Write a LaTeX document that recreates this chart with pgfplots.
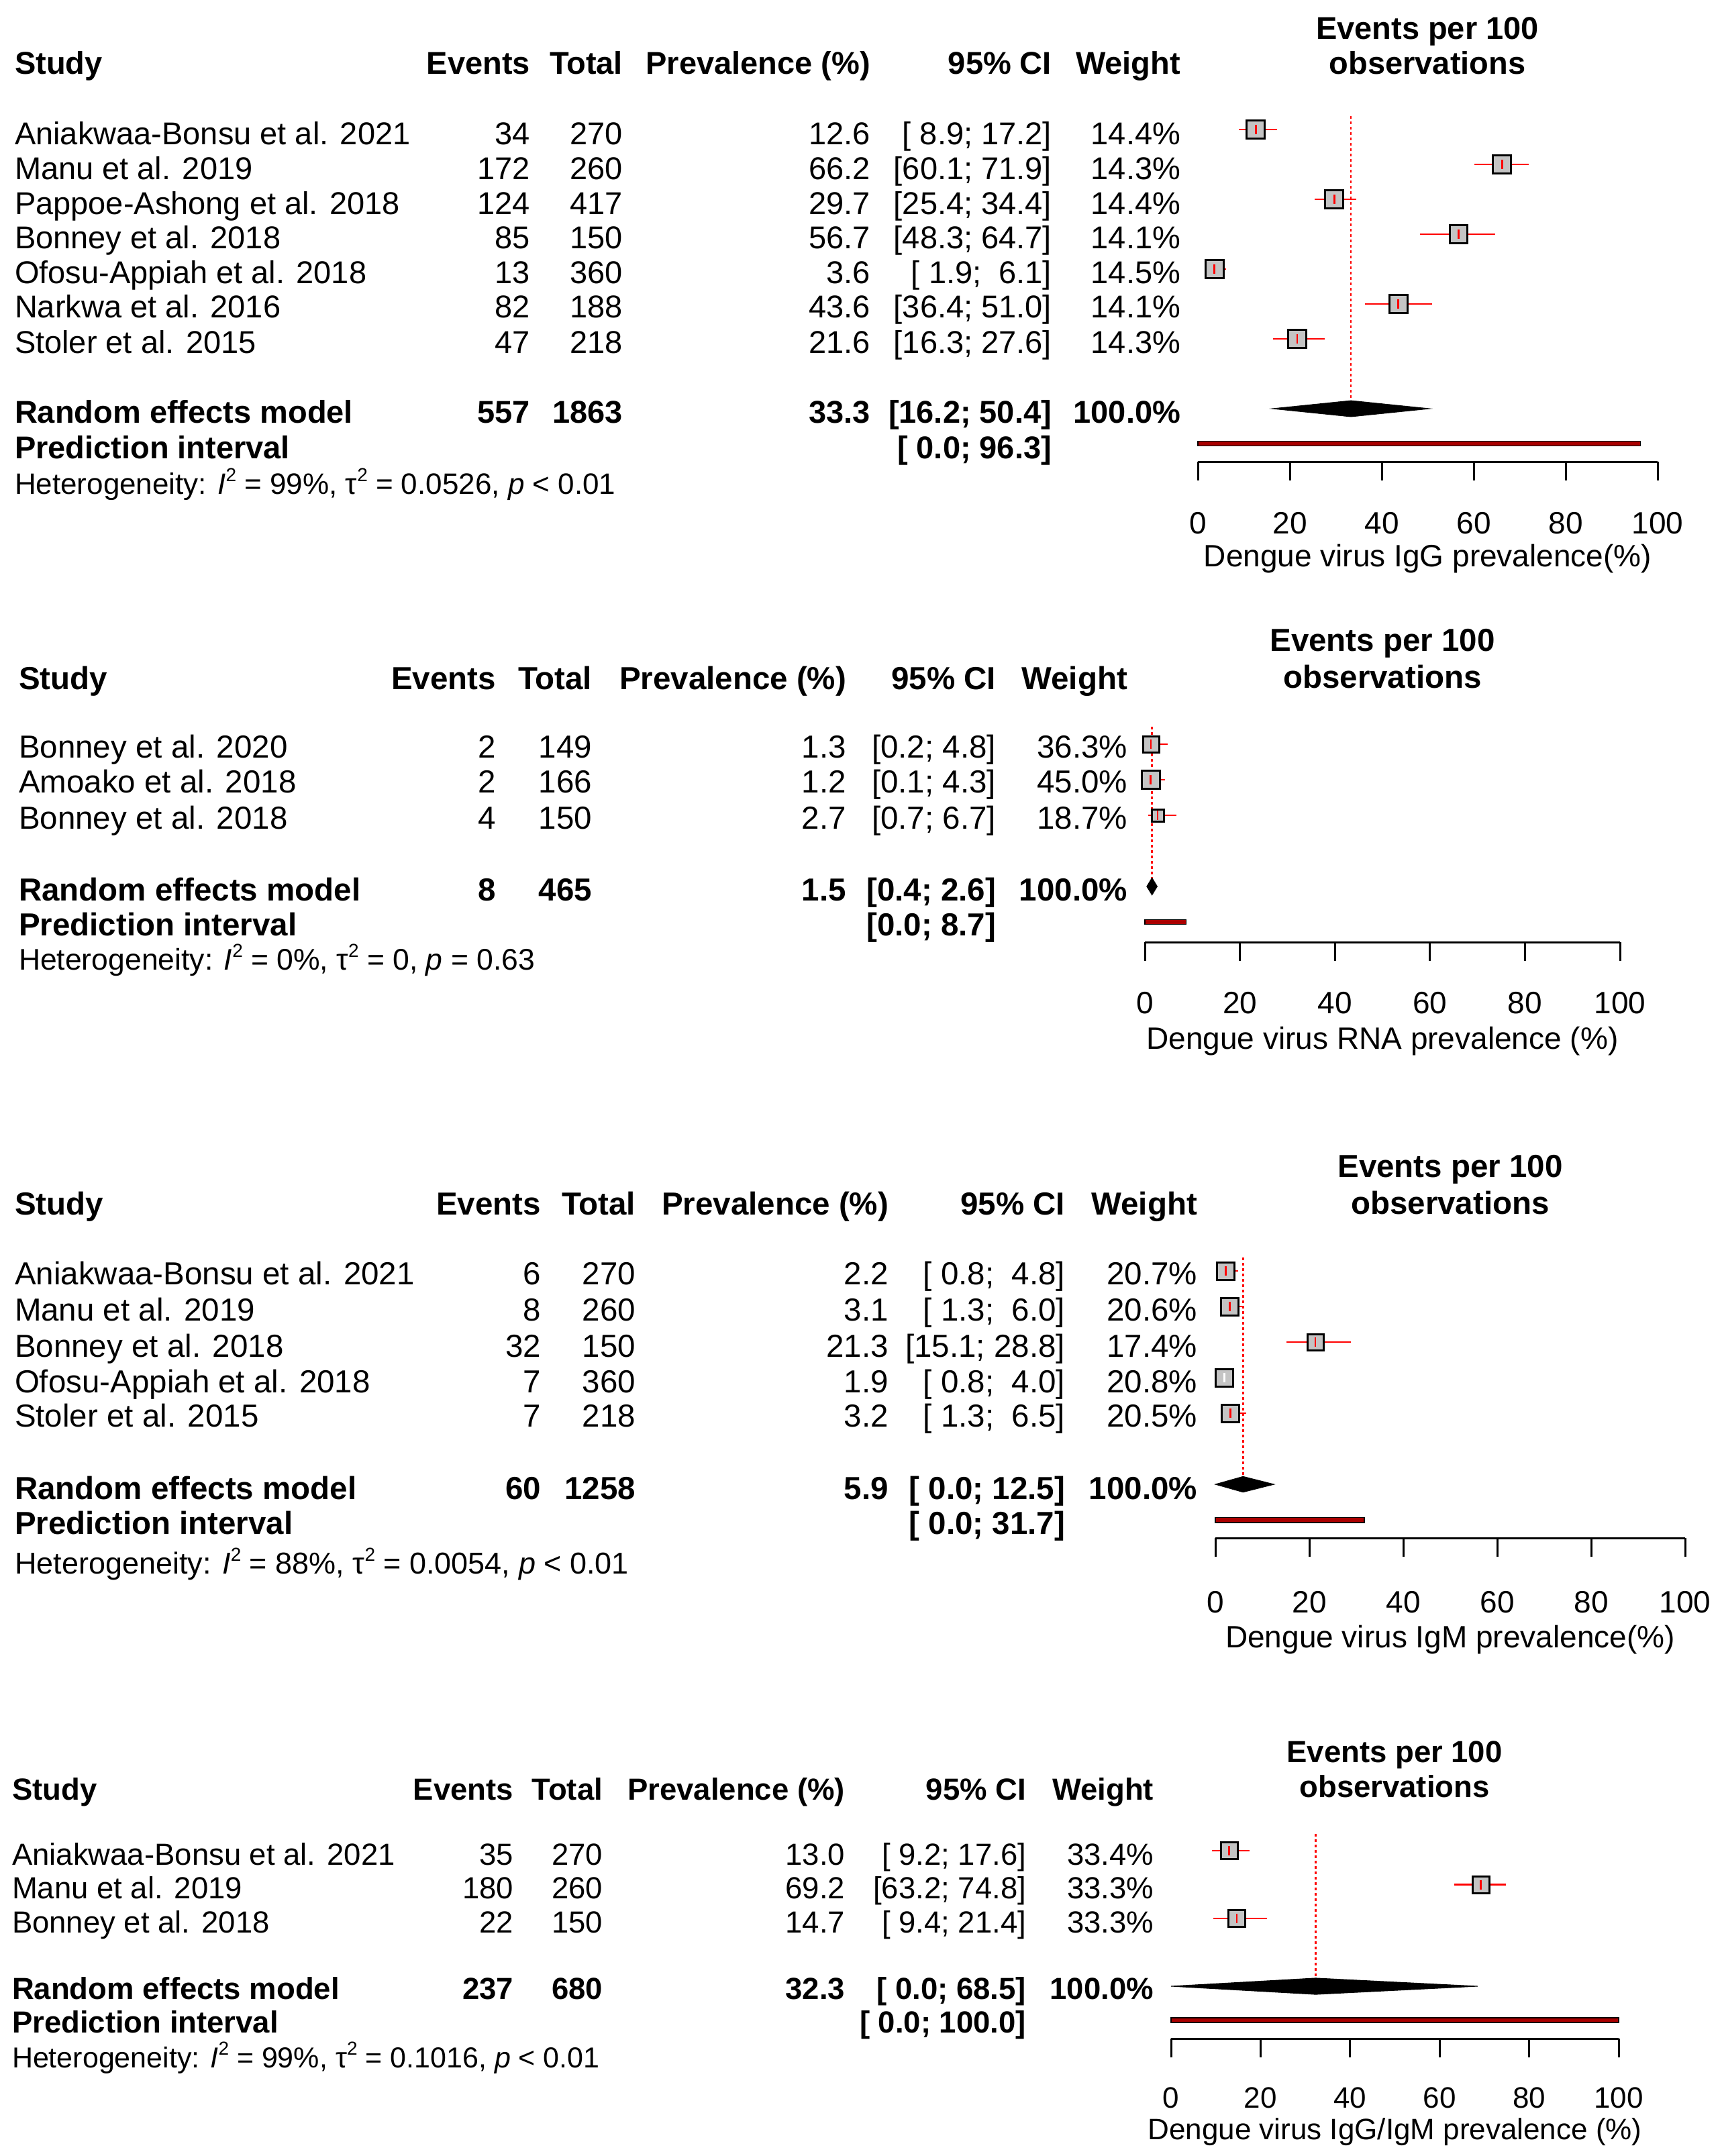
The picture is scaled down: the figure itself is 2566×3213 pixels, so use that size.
\documentclass[border=0pt]{standalone}
\usepackage{fontspec}
\setmainfont{Liberation Sans}
\usepackage{pgfplots}
\pgfplotsset{compat=1.18}
\usepackage{pgfplotstable}
\definecolor{sqgray}{RGB}{196,196,196}
\definecolor{predred}{RGB}{170,0,0}

% per-study estimates: row, estimate, lower, upper, square half-size (pt)
\pgfplotstableread{
row est lo hi s
1 12.6 8.9 17.2 13.5
2 66.2 60.1 71.9 13.5
3 29.7 25.4 34.4 13.5
4 56.7 48.3 64.7 13.4
5 3.6 1.9 6.1 13.5
6 43.6 36.4 51.0 13.4
7 21.6 16.3 27.6 13.5
}\tA
\pgfplotstableread{
row est lo hi s
1 1.3 0.2 4.8 12
2 1.2 0.1 4.3 13.5
3 2.7 0.7 6.7 9
}\tB
\pgfplotstableread{
row est lo hi s
1 2.2 0.8 4.8 13
2 3.1 1.3 6.0 13
3 21.3 15.1 28.8 12
4 1.9 0.8 4.0 13
5 3.2 1.3 6.5 13
}\tC
\pgfplotstableread{
row est lo hi s
1 13.0 9.2 17.6 12.5
2 69.2 63.2 74.8 12.5
3 14.7 9.4 21.4 12.5
}\tD

\newcommand\cols[6]{\def\cS{#1}\def\cE{#2}\def\cT{#3}\def\cP{#4}\def\cC{#5}\def\cW{#6}}
\newcommand\R[7]{%
 \node[t,anchor=base west] at (\cS,#1) {#2};
 \node[t,anchor=base east] at (\cE,#1) {#3};
 \node[t,anchor=base east] at (\cT,#1) {#4};
 \node[t,anchor=base east] at (\cP,#1) {#5};
 \node[t,anchor=base east] at (\cC,#1) {#6};
 \node[t,anchor=base east] at (\cW,#1) {#7};}
\newcommand\hsup[1]{\raisebox{0.42em}{\fontsize{28}{28}\selectfont #1}}
\newcommand\het[3]{Heterogeneity: \textit{I}\hsup{2} = #1, τ\hsup{2} = #2, \textit{p} #3}
\newcommand\hdr[1]{\R{#1}{\bfseries Study}{\bfseries Events}{\bfseries Total}{\bfseries Prevalence (\%)}{\bfseries 95\% CI}{\bfseries Weight}}

\pgfplotsset{fp/.style={
 scale only axis, anchor=south west, xmin=0, xmax=100, ymax=0, clip=false,
 axis x line*=bottom, axis y line=none,
 axis line style={black, line width=3pt, -},
 xtick={0,20,40,60,80,100}, ytick=\empty,
 tick align=outside, major tick length=28pt,
 tick style={black, line width=3pt},
 /pgf/number format/assume math mode=true,
 xticklabel style={font=\fontsize{46}{50}\selectfont, anchor=base},
 xlabel style={font=\fontsize{46}{50}\selectfont, at={(axis description cs:0.5,0)}, anchor=base},
},
sq/.style={scatter, only marks, mark=square*, mark options={line width=3pt, solid},
 scatter/use mapped color={draw=black, fill=sqgray},
 visualization depends on={\thisrow{s} \as \ms},
 scatter/@pre marker code/.append style={/tikz/mark size=\ms}},
ci/.style={only marks, mark=|, mark size=7pt, mark options={#1, line width=2.5pt},
 error bars/.cd, x dir=both, x explicit, error mark=none,
 error bar style={#1, line width=2.5pt, solid}},
refl/.style={red, line width=2.5pt, dash pattern=on 4pt off 4pt},
dia/.style={fill=black, draw=black, line width=1pt},
pred/.style={fill=predred, draw=black, line width=1.5pt}
}

\begin{document}
\fontsize{47}{56}\selectfont
\begin{tikzpicture}[t/.style={inner sep=0pt, outer sep=0pt}]
\path[use as bounding box] (0,0) rectangle (2566pt,-3213pt);

% ---------- Panel 1 text ----------
\begin{scope}[x=1pt,y=-1pt,font=\fontsize{47}{56}\selectfont]
\cols{22}{790}{928}{1297}{1567}{1759}
\node[t,anchor=base] at (2127,58) {\bfseries Events per 100};
\node[t,anchor=base] at (2127,110) {\bfseries observations};
\hdr{110}
\R{215}{Aniakwaa-Bonsu et al. 2021}{34}{270}{12.6}{[ 8.9; 17.2]}{14.4\%}
\R{267}{Manu et al. 2019}{172}{260}{66.2}{[60.1; 71.9]}{14.3\%}
\R{319}{Pappoe-Ashong et al. 2018}{124}{417}{29.7}{[25.4; 34.4]}{14.4\%}
\R{370}{Bonney et al. 2018}{85}{150}{56.7}{[48.3; 64.7]}{14.1\%}
\R{422}{Ofosu-Appiah et al. 2018}{13}{360}{3.6}{[ 1.9;\ \ 6.1]}{14.5\%}
\R{473}{Narkwa et al. 2016}{82}{188}{43.6}{[36.4; 51.0]}{14.1\%}
\R{526}{Stoler et al. 2015}{47}{218}{21.6}{[16.3; 27.6]}{14.3\%}
\R{630}{\bfseries Random effects model}{\bfseries 557}{\bfseries 1863}{\bfseries 33.3}{\bfseries [16.2; 50.4]}{\bfseries 100.0\%}
\R{683}{\bfseries Prediction interval}{}{}{}{\bfseries [ 0.0; 96.3]}{}
\node[t,anchor=base west,font=\fontsize{44}{50}\selectfont] at (22,736) {\het{99\%}{0.0526}{< 0.01}};
\end{scope}

% ---------- Panel 2 text ----------
\begin{scope}[x=1pt,y=-1pt,font=\fontsize{47.5}{56}\selectfont]
\cols{28}{739}{882}{1261}{1484}{1680}
\node[t,anchor=base] at (2060,970) {\bfseries Events per 100};
\node[t,anchor=base] at (2060,1025) {\bfseries observations};
\hdr{1027}
\R{1129}{Bonney et al. 2020}{2}{149}{1.3}{[0.2; 4.8]}{36.3\%}
\R{1181}{Amoako et al. 2018}{2}{166}{1.2}{[0.1; 4.3]}{45.0\%}
\R{1235}{Bonney et al. 2018}{4}{150}{2.7}{[0.7; 6.7]}{18.7\%}
\R{1342}{\bfseries Random effects model}{\bfseries 8}{\bfseries 465}{\bfseries 1.5}{\bfseries [0.4; 2.6]}{\bfseries 100.0\%}
\R{1394}{\bfseries Prediction interval}{}{}{}{\bfseries [0.0; 8.7]}{}
\node[t,anchor=base west,font=\fontsize{44.5}{50}\selectfont] at (28,1445) {\het{0\%}{0}{= 0.63}};
\end{scope}

% ---------- Panel 3 text ----------
\begin{scope}[x=1pt,y=-1pt,font=\fontsize{47.5}{56}\selectfont]
\cols{22}{806}{947}{1324}{1587}{1784}
\node[t,anchor=base] at (2161,1754) {\bfseries Events per 100};
\node[t,anchor=base] at (2161,1809) {\bfseries observations};
\hdr{1810}
\R{1914}{Aniakwaa-Bonsu et al. 2021}{6}{270}{2.2}{[ 0.8;\ \ 4.8]}{20.7\%}
\R{1968}{Manu et al. 2019}{8}{260}{3.1}{[ 1.3;\ \ 6.0]}{20.6\%}
\R{2022}{Bonney et al. 2018}{32}{150}{21.3}{[15.1; 28.8]}{17.4\%}
\R{2075}{Ofosu-Appiah et al. 2018}{7}{360}{1.9}{[ 0.8;\ \ 4.0]}{20.8\%}
\R{2126}{Stoler et al. 2015}{7}{218}{3.2}{[ 1.3;\ \ 6.5]}{20.5\%}
\R{2234}{\bfseries Random effects model}{\bfseries 60}{\bfseries 1258}{\bfseries 5.9}{\bfseries [ 0.0; 12.5]}{\bfseries 100.0\%}
\R{2286}{\bfseries Prediction interval}{}{}{}{\bfseries [ 0.0; 31.7]}{}
\node[t,anchor=base west,font=\fontsize{45}{50}\selectfont] at (22,2345) {\het{88\%}{0.0054}{< 0.01}};
\end{scope}

% ---------- Panel 4 text ----------
\begin{scope}[x=1pt,y=-1pt,font=\fontsize{45.5}{54}\selectfont]
\cols{18}{765}{898}{1259}{1529}{1719}
\node[t,anchor=base] at (2078,2626) {\bfseries Events per 100};
\node[t,anchor=base] at (2078,2678) {\bfseries observations};
\hdr{2682}
\R{2779}{Aniakwaa-Bonsu et al. 2021}{35}{270}{13.0}{[ 9.2; 17.6]}{33.4\%}
\R{2829}{Manu et al. 2019}{180}{260}{69.2}{[63.2; 74.8]}{33.3\%}
\R{2880}{Bonney et al. 2018}{22}{150}{14.7}{[ 9.4; 21.4]}{33.3\%}
\R{2979}{\bfseries Random effects model}{\bfseries 237}{\bfseries 680}{\bfseries 32.3}{\bfseries [ 0.0; 68.5]}{\bfseries 100.0\%}
\R{3029}{\bfseries Prediction interval}{}{}{}{\bfseries [ 0.0; 100.0]}{}
\node[t,anchor=base west,font=\fontsize{43}{50}\selectfont] at (18,3081) {\het{99\%}{0.1016}{< 0.01}};
\end{scope}

% ---------- Panel 1 plot ----------
\begin{axis}[fp, at={(1785pt,-688pt)}, width=685pt, height=547pt, ymin=-10.519,
  xticklabel style={yshift=-79pt}, xlabel style={yshift=-156pt},
  xlabel={Dengue virus IgG prevalence(\%)}]
\addplot[refl] coordinates {(33.3,-0.615) (33.3,-8.8)};
\addplot[sq] table[x=est, y expr=-\thisrow{row}] {\tA};
\addplot[ci=red] table[x=est, y expr=-\thisrow{row}, x error plus expr=\thisrow{hi}-\thisrow{est}, x error minus expr=\thisrow{est}-\thisrow{lo}] {\tA};
\addplot[dia] coordinates {(16.2,-9) (33.3,-8.77) (50.4,-9) (33.3,-9.23)} -- cycle;
\addplot[pred] coordinates {(0,-9.93) (96.3,-9.93) (96.3,-10.07) (0,-10.07)} -- cycle;
\end{axis}

% ---------- Panel 2 plot ----------
\begin{axis}[fp, at={(1706pt,-1404pt)}, width=708pt, height=348pt, ymin=-6.566,
  xticklabel style={yshift=-78pt}, xlabel style={yshift=-159pt},
  xlabel={Dengue virus RNA prevalence (\%)}]
\addplot[refl] coordinates {(1.5,-0.51) (1.5,-4.77)};
\addplot[sq] table[x=est, y expr=-\thisrow{row}] {\tB};
\addplot[ci=red] table[x=est, y expr=-\thisrow{row}, x error plus expr=\thisrow{hi}-\thisrow{est}, x error minus expr=\thisrow{est}-\thisrow{lo}] {\tB};
\addplot[dia] coordinates {(0.4,-5) (1.5,-4.76) (2.6,-5) (1.5,-5.24)} -- cycle;
\addplot[pred] coordinates {(0,-5.93) (8.7,-5.93) (8.7,-6.07) (0,-6.07)} -- cycle;
\end{axis}

% ---------- Panel 3 plot ----------
\begin{axis}[fp, at={(1811pt,-2292pt)}, width=700pt, height=451pt, ymin=-8.509,
  xticklabel style={yshift=-83pt}, xlabel style={yshift=-163pt},
  xlabel={Dengue virus IgM prevalence(\%)}]
\addplot[refl] coordinates {(5.9,-0.62) (5.9,-6.78)};
\addplot[sq] table[x=est, y expr=-\thisrow{row}] {\tC};
\addplot[x filter/.expression={\coordindex==3 ? nan : x}, ci=red] table[x=est, y expr=-\thisrow{row}, x error plus expr=\thisrow{hi}-\thisrow{est}, x error minus expr=\thisrow{est}-\thisrow{lo}] {\tC};
\addplot[x filter/.expression={\coordindex==3 ? x : nan}, ci=white] table[x=est, y expr=-\thisrow{row}, x error plus expr=\thisrow{hi}-\thisrow{est}, x error minus expr=\thisrow{est}-\thisrow{lo}] {\tC};
\addplot[dia] coordinates {(0,-7) (5.9,-6.78) (12.5,-7) (5.9,-7.22)} -- cycle;
\addplot[pred] coordinates {(0,-7.93) (31.7,-7.93) (31.7,-8.07) (0,-8.07)} -- cycle;
\end{axis}

% ---------- Panel 4 plot ----------
\begin{axis}[fp, at={(1745pt,-3038pt)}, width=667pt, height=330.5pt, ymin=-6.545,
  xticklabel style={yshift=-75pt, font=\fontsize{44}{50}\selectfont},
  xlabel style={yshift=-150pt, font=\fontsize{44}{50}\selectfont},
  xlabel={Dengue virus IgG/IgM prevalence (\%)}]
\addplot[refl] coordinates {(32.3,-0.5) (32.3,-4.76)};
\addplot[sq] table[x=est, y expr=-\thisrow{row}] {\tD};
\addplot[ci=red] table[x=est, y expr=-\thisrow{row}, x error plus expr=\thisrow{hi}-\thisrow{est}, x error minus expr=\thisrow{est}-\thisrow{lo}] {\tD};
\addplot[dia] coordinates {(0,-5) (32.3,-4.76) (68.5,-5) (32.3,-5.24)} -- cycle;
\addplot[pred] coordinates {(0,-5.93) (100,-5.93) (100,-6.07) (0,-6.07)} -- cycle;
\end{axis}
\end{tikzpicture}
\end{document}
